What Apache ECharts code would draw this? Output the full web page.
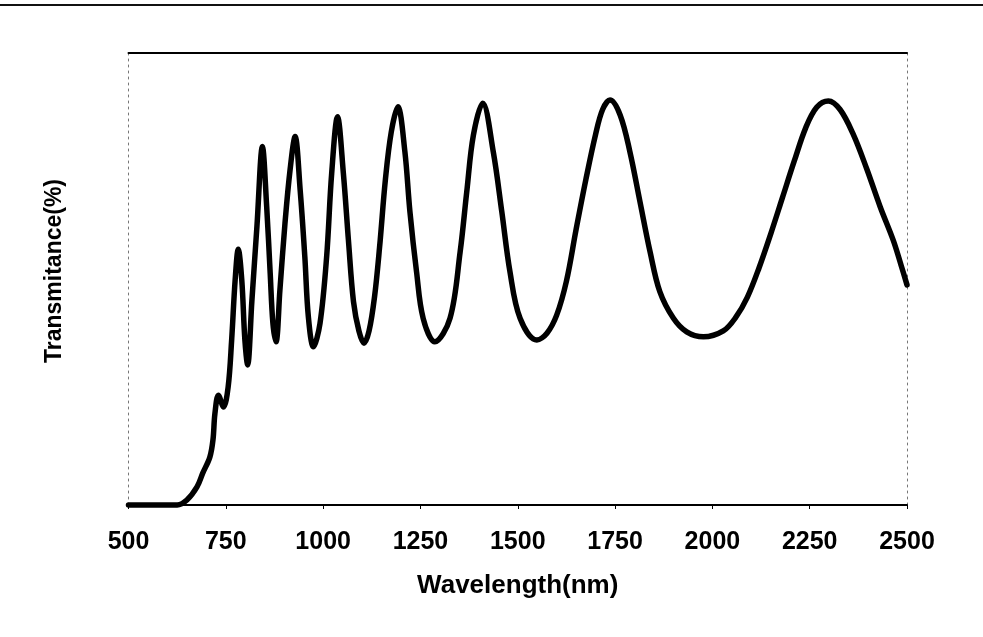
<!DOCTYPE html>
<html>
<head>
<meta charset="utf-8">
<script src="https://cdn.jsdelivr.net/npm/echarts@6/dist/echarts.min.js"></script>
<style>
html,body{margin:0;padding:0;background:#fff;}
#chart{width:983px;height:637px;}
</style>
</head>
<body>
<div id="chart"></div>
<script>
// Wavelength (nm)
var wavelength = [500,600,625,650,676,691,709,717,722,731,744,756,765,774,782,791,799,806,
  817,830,844,855,864,871,879,889,902,915,928,941,953,962,975,992,1009,1022,1037,1052,1065,1078,1092,1105,
  1118,1132,1145,1160,1175,1192,1210,1223,1240,1257,1287,1326,1352,1369,1386,1410,1437,1459,1480,1506,1549,
  1575,1600,1625,1650,1675,1700,1718,1737,1763,1788,1814,1840,1865,1900,1934,1977,2028,2060,2090,2120,2150,2180,2210,2240,2268,2298,
  2328,2362,2396,2431,2465,2485,2500];
// Transmittance (%) (axis has no tick labels; 0..100 scale)
var transmittance = [0,0,0,1.1,4.0,7.1,10.6,14.4,20.2,24.3,21.7,26.1,36.5,49.8,56.6,49.8,36.5,31.0,
  45.2,61.7,79.3,66.0,51.3,40.2,36.1,47.6,62.3,74.1,81.5,69.7,54.9,41.7,35.0,40.2,54.9,73.4,85.9,73.4,58.6,45.0,38.5,35.8,
  38.5,46.0,57.0,72.0,82.5,88.1,78.2,64.9,51.6,41.3,36.1,41.3,56.0,69.3,81.8,88.9,78.2,64.9,51.6,41.3,36.5,
  38.0,42.0,49.5,61.0,72.0,82.0,87.5,89.6,86.3,78.2,67.1,56.0,47.2,41.3,38.3,37.2,38.5,41.5,46.0,52.5,60.0,68.0,76.0,83.5,88.0,89.4,
  87.5,82.0,74.5,66.0,58.5,53.0,48.7];
var xTicks = [500,750,1000,1250,1500,1750,2000,2250,2500];
var xTitle = 'Wavelength(nm)';
var yTitle = 'Transmitance(%)';

var seriesData = wavelength.map(function(w,i){return [w, transmittance[i]];});
var fontFam = '"Liberation Sans", Arial, Helvetica, sans-serif';

var chart = echarts.init(document.getElementById('chart'), null, {renderer:'canvas'});
chart.setOption({
  animation:false,
  backgroundColor:'#fff',
  grid:{left:128.5, right:76, top:53, bottom:132, containLabel:false},
  graphic:[{type:'line', shape:{x1:0,y1:5,x2:983,y2:5}, style:{stroke:'#111', lineWidth:2}}],
  xAxis:[{
    type:'value', min:xTicks[0], max:xTicks[xTicks.length-1], interval:250, position:'bottom',
    name:xTitle, nameLocation:'middle', nameGap:68,
    nameTextStyle:{fontFamily:fontFam, fontWeight:'bold', fontSize:26, color:'#000'},
    axisLine:{show:true, lineStyle:{color:'#000', width:2}},
    axisTick:{show:true, length:4, lineStyle:{color:'#000', width:1}},
    axisLabel:{show:true, margin:25, fontFamily:fontFam, fontWeight:'bold', fontSize:25, color:'#000',
      formatter:function(v){return String(v);}},
    splitLine:{show:false}
  },{
    type:'value', min:xTicks[0], max:xTicks[xTicks.length-1], position:'top',
    axisLine:{show:true, onZero:false, lineStyle:{color:'#000', width:2}},
    axisTick:{show:false}, axisLabel:{show:false}, splitLine:{show:false}
  }],
  yAxis:[{
    type:'value', min:0, max:100, position:'left',
    name:yTitle, nameLocation:'middle', nameGap:62, nameRotate:90,
    nameTextStyle:{fontFamily:fontFam, fontWeight:'bold', fontSize:23, color:'#000', padding:[0,0,0,16]},
    axisLine:{show:true, onZero:false, lineStyle:{color:'#777', width:1, type:[2,4]}},
    axisTick:{show:false}, axisLabel:{show:false}, splitLine:{show:false}
  },{
    type:'value', min:0, max:100, position:'right',
    axisLine:{show:true, onZero:false, lineStyle:{color:'#777', width:1, type:[2,4]}},
    axisTick:{show:false}, axisLabel:{show:false}, splitLine:{show:false}
  }],
  series:[{
    type:'line', data:seriesData, xAxisIndex:0, yAxisIndex:0,
    smooth:0.35, showSymbol:false, symbol:'none', clip:false,
    lineStyle:{color:'#000', width:5.5, join:'round', cap:'round'}
  }]
});
</script>
</body>
</html>
